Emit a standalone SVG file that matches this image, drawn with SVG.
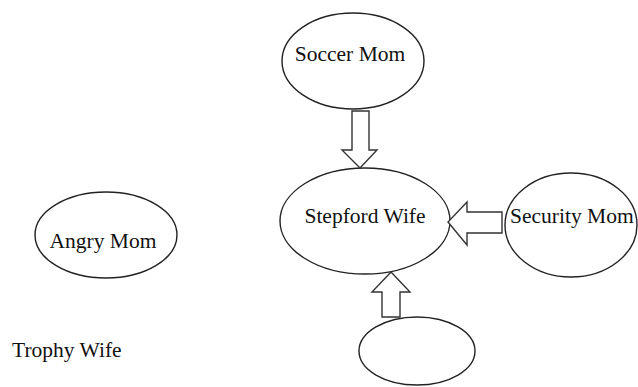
<svg xmlns="http://www.w3.org/2000/svg" width="638" height="387" viewBox="0 0 638 387">
<style>
.n{fill:#fff;stroke:#222;stroke-width:1.4}
.a{fill:#fff;stroke:#333;stroke-width:1.4;stroke-linejoin:miter}
.t{font-family:"Liberation Serif","Times New Roman",serif;font-size:21.5px;fill:#111}
</style>
<rect width="638" height="387" fill="#fff"/>
<g id="soccer-mom">
<ellipse class="n" cx="353" cy="61" rx="71" ry="48"/>
<text class="t" x="350" y="61" text-anchor="middle">Soccer Mom</text>
</g>
<g id="stepford-wife">
<ellipse class="n" cx="365" cy="221" rx="85" ry="53"/>
<text class="t" x="365" y="223" text-anchor="middle">Stepford Wife</text>
</g>
<g id="security-mom">
<ellipse class="n" cx="571" cy="225" rx="66" ry="52"/>
<text class="t" x="510" y="223">Security Mom</text>
</g>
<g id="angry-mom">
<ellipse class="n" cx="106" cy="235" rx="71" ry="43"/>
<text class="t" x="103" y="248" text-anchor="middle">Angry Mom</text>
</g>
<g id="trophy-wife">
<text class="t" x="12" y="357">Trophy Wife</text>
</g>
<g id="bottom-node">
<ellipse class="n" cx="417" cy="351" rx="58" ry="34"/>
</g>
<g id="connectors">
<polygon class="a" points="352,111 369,111 369,150 377,150 360,168 342,150 352,150"/>
<polygon class="a" points="502,212 502,233 467,233 467,245 448,222 467,202 467,212"/>
<polygon class="a" points="382,317 400,317 400,292 410,292 391,272 372,292 382,292"/>
</g>
</svg>
